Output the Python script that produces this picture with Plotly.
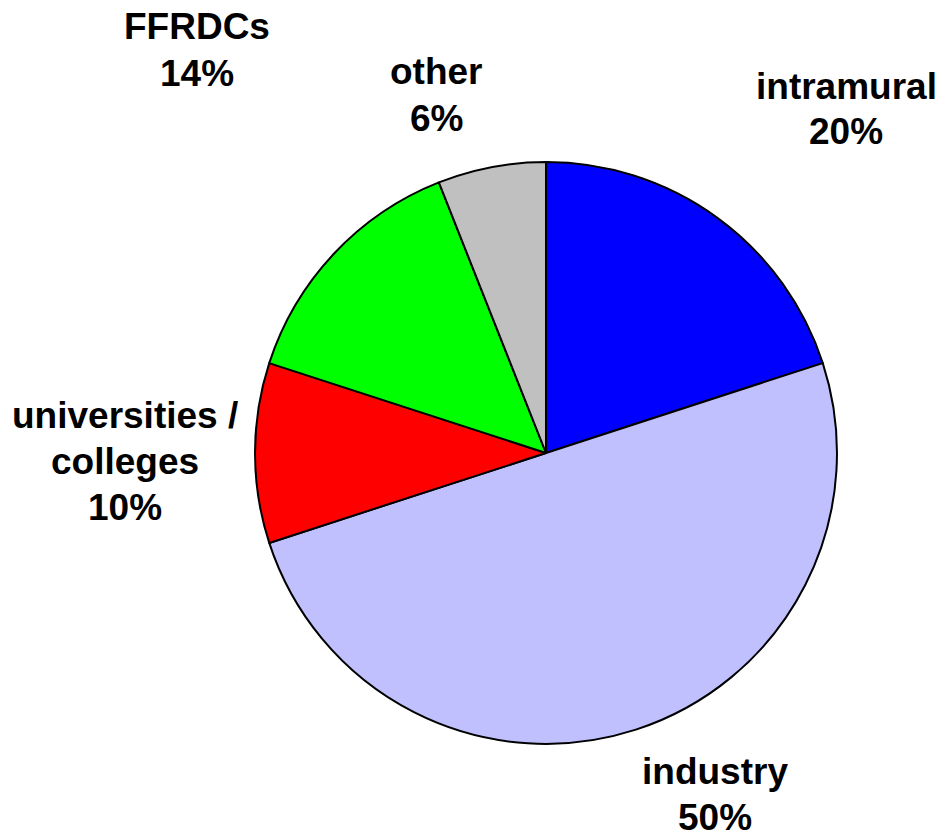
import plotly.graph_objects as go

# Data (clockwise from 12 o'clock)
categories = ["intramural", "industry", "universities / colleges", "FFRDCs", "other"]
values = [20, 50, 10, 14, 6]
colors = ["#0000FF", "#C0C0FF", "#FF0000", "#00FF00", "#C0C0C0"]

# label lines per category (text only)
label_lines = {
    "intramural": ["intramural"],
    "industry": ["industry"],
    "universities / colleges": ["universities /", "colleges"],
    "FFRDCs": ["FFRDCs"],
    "other": ["other"],
}

W, H = 940, 833
cx, cy, r = 546, 453, 291

fig = go.Figure(go.Pie(
    labels=categories,
    values=values,
    sort=False,
    direction="clockwise",
    rotation=0,
    marker=dict(colors=colors, line=dict(color="black", width=2)),
    textinfo="none",
    hoverinfo="label+percent",
    showlegend=False,
    domain=dict(x=[(cx - r) / W, (cx + r) / W], y=[(H - cy - r) / H, (H - cy + r) / H]),
))

# label anchor positions (pixel centres of first line) and line step
label_pos = {
    "intramural": (846, 86),
    "industry": (715, 771),
    "universities / colleges": (125, 415),
    "FFRDCs": (197, 27),
    "other": (436, 72),
}
step = 46
total = sum(values)
font = dict(family="Liberation Sans, Arial, sans-serif", size=37, color="black")
anns = []
for cat, v in zip(categories, values):
    lines = label_lines[cat] + [f"{round(100 * v / total)}%"]
    x0, y0 = label_pos[cat]
    for i, t in enumerate(lines):
        anns.append(dict(
            x=x0 / W, y=1 - (y0 + i * step) / H, xref="paper", yref="paper",
            text=f"<b>{t}</b>", showarrow=False, font=font,
            xanchor="center", yanchor="middle",
        ))

fig.update_layout(
    width=W, height=H,
    margin=dict(l=0, r=0, t=0, b=0),
    paper_bgcolor="white", plot_bgcolor="white",
    annotations=anns,
)
fig.write_html("out.html", post_script="document.body.style.margin='0';",
               config={"displayModeBar": False})
